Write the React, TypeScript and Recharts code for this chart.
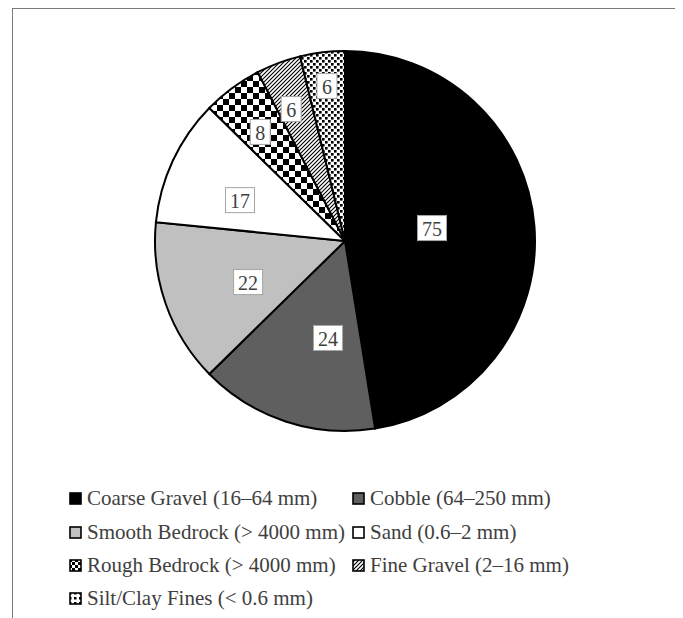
import React from 'react';
import { PieChart, Pie, Cell, Legend } from 'recharts';

const categories = [
  'Coarse Gravel (16–64 mm)',
  'Cobble (64–250 mm)',
  'Smooth Bedrock (> 4000 mm)',
  'Sand (0.6–2 mm)',
  'Rough Bedrock (> 4000 mm)',
  'Fine Gravel (2–16 mm)',
  'Silt/Clay Fines (< 0.6 mm)',
];
const values = [75, 24, 22, 17, 8, 6, 6];

const data = categories.map((name, i) => ({ name, value: values[i] }));

const FILLS = ['#000000', '#5f5f5f', '#c0c0c0', '#ffffff', 'url(#pCheck)', 'url(#pHatch)', 'url(#pDots)'];
const LFILLS = ['#000000', '#5f5f5f', '#c0c0c0', '#ffffff', 'url(#lCheck)', 'url(#lHatch)', 'url(#lDots)'];
// label placement (fraction of radius, angular nudge in degrees), like Excel's best fit
const LABEL_R = [0.463, 0.518, 0.554, 0.593, 0.727, 0.75, 0.821];
const LABEL_DA = [3.9, 8.3, 3.6, 3.8, 1.4, 1.7, -0.2];
const RAD = Math.PI / 180;
const FONT = "'Liberation Serif', 'Times New Roman', serif";

const renderLabel = (props: any) => {
  const { cx, cy, midAngle, outerRadius, index, value } = props;
  const r = outerRadius * LABEL_R[index];
  const a = midAngle + LABEL_DA[index];
  const x = cx + r * Math.cos(-a * RAD);
  const y = cy + r * Math.sin(-a * RAD);
  const w = String(value).length > 1 ? 29 : 20;
  const h = 25;
  return (
    <g key={`lbl-${index}`}>
      <rect x={x - w / 2} y={y - h / 2} width={w} height={h} fill="#ffffff" stroke="#a6a6a6" strokeWidth={1} />
      <text x={x} y={y + 1} textAnchor="middle" dominantBaseline="central" fontFamily={FONT} fontSize={20} fill="#404040">
        {value}
      </text>
    </g>
  );
};

const rowTops = [489, 523, 556, 589];
const iconLeft = [56, 339];

const LegendContent = () => (
  <div style={{ position: 'relative', width: 665, height: 0 }}>
    {categories.map((name, i) => {
      const row = Math.floor(i / 2);
      const col = i % 2;
      return (
        <div
          key={name}
          style={{
            position: 'absolute',
            left: iconLeft[col],
            top: rowTops[row] - 14,
            height: 28,
            display: 'flex',
            alignItems: 'center',
            whiteSpace: 'nowrap',
          }}
        >
          <svg width={13} height={13} style={{ display: 'block' }}>
            <defs>
              <pattern id="lCheck" patternUnits="userSpaceOnUse" width={6} height={6}>
                <rect width={6} height={6} fill="#fff" />
                <rect width={3} height={3} fill="#000" />
                <rect x={3} y={3} width={3} height={3} fill="#000" />
              </pattern>
              <pattern id="lHatch" patternUnits="userSpaceOnUse" width={4} height={4}>
                <rect width={4} height={4} fill="#fff" />
                <path d="M-1,1 l2,-2 M0,4 l4,-4 M3,5 l2,-2" stroke="#000" strokeWidth={1.2} />
              </pattern>
              <pattern id="lDots" patternUnits="userSpaceOnUse" width={5} height={5}>
                <rect width={5} height={5} fill="#fff" />
                <rect width={2.5} height={2.5} fill="#000" />
              </pattern>
            </defs>
            <rect x={1} y={1} width={11} height={11} fill={LFILLS[i]} stroke="#000" strokeWidth={1.6} />
          </svg>
          <span style={{ marginLeft: 5, fontFamily: FONT, fontSize: 21, color: '#404040', lineHeight: 1 }}>{name}</span>
        </div>
      );
    })}
  </div>
);

export default function App() {
  return (
    <div
      style={{
        position: 'relative',
        marginLeft: 4,
        width: 668,
        height: 640,
        boxSizing: 'border-box',
        border: '1.5px solid #7a7a7a',
        background: '#fff',
      }}
    >
      <PieChart width={665} height={610} margin={{ top: 0, right: 0, bottom: 0, left: 0 }}>
        <defs>
          <pattern id="pCheck" patternUnits="userSpaceOnUse" width={12} height={12}>
            <rect width={12} height={12} fill="#fff" />
            <rect width={6} height={6} fill="#000" />
            <rect x={6} y={6} width={6} height={6} fill="#000" />
          </pattern>
          <pattern id="pHatch" patternUnits="userSpaceOnUse" width={4} height={4}>
            <rect width={4} height={4} fill="#fff" />
            <path d="M-1,1 l2,-2 M0,4 l4,-4 M3,5 l2,-2" stroke="#000" strokeWidth={1.1} />
          </pattern>
          <pattern id="pDots" patternUnits="userSpaceOnUse" width={6} height={6}>
            <rect width={6} height={6} fill="#fff" />
            <rect width={2.6} height={2.6} fill="#000" />
            <rect x={3} y={3} width={2.6} height={2.6} fill="#000" />
          </pattern>
        </defs>
        <Pie
          data={data}
          dataKey="value"
          nameKey="name"
          cx={332}
          cy={232}
          outerRadius={190}
          startAngle={90}
          endAngle={-270}
          stroke="#000"
          strokeWidth={2}
          label={renderLabel}
          labelLine={false}
          isAnimationActive={false}
        >
          {data.map((d, i) => (
            <Cell key={d.name} fill={FILLS[i]} />
          ))}
        </Pie>
        <Legend
          verticalAlign="bottom"
          content={<LegendContent />}
          wrapperStyle={{ position: 'absolute', left: 0, top: 0, width: 665, height: 0 }}
        />
      </PieChart>
    </div>
  );
}
